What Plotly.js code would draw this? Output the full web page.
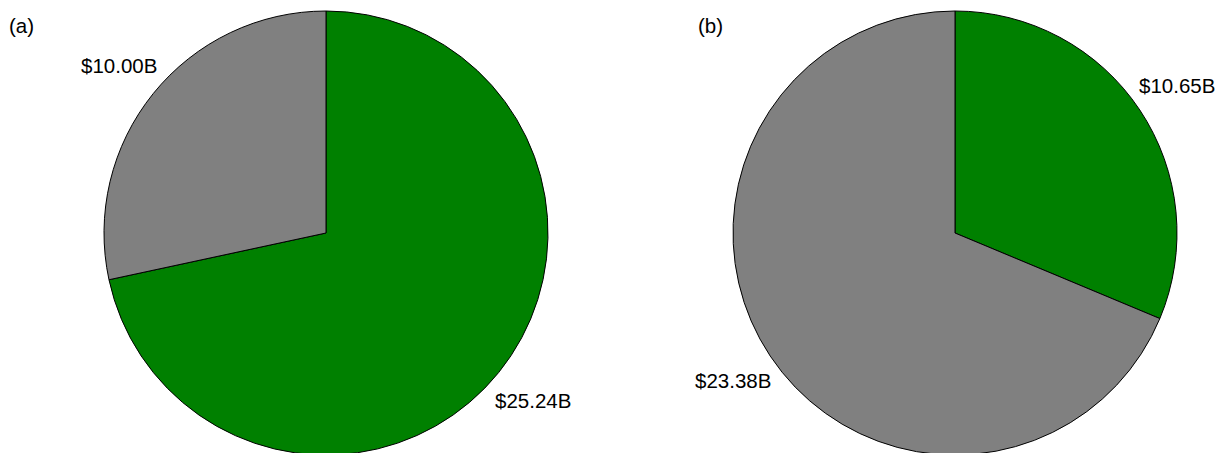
<!DOCTYPE html>
<html>
<head>
<meta charset="utf-8">
<script src="https://cdn.plot.ly/plotly-3.0.1.min.js"></script>
<style>
html,body{margin:0;padding:0;overflow:hidden;background:#fff;}
#chart{width:1223px;height:470px;}
</style>
</head>
<body>
<div id="chart"></div>
<script>
// Data
const categoriesA = ["Green", "Grey"];
const valuesA = [25.24, 10.00];
const categoriesB = ["Green", "Grey"];
const valuesB = [10.65, 23.38];
const panelLabels = ["(a)", "(b)"];
const sliceColors = ["#008000", "#808080"];

const W = 1223, H = 470, mt = 11, mb = 15;
const ph = H - mt - mb;
const FONT = "Liberation Sans, Arial, sans-serif";
const FS = 20.5;

const panels = [
  {labels: categoriesA, values: valuesA, x0: 104, x1: 548},
  {labels: categoriesB, values: valuesB, x0: 733, x1: 1177}
];

function pieTrace(p) {
  return {
    type: "pie",
    labels: p.labels,
    values: p.values,
    sort: false,
    direction: "clockwise",
    rotation: 0,
    marker: {colors: sliceColors, line: {color: "#000000", width: 1}},
    textinfo: "none",
    hoverinfo: "none",
    showlegend: false,
    domain: {x: [p.x0 / W, p.x1 / W], y: [0, 1]}
  };
}

const data = panels.map(pieTrace);

// value labels centred at 1.2 x radius along each slice's mid-angle
const annotations = [];
panels.forEach(function (p) {
  const r = (p.x1 - p.x0) / 2;
  const cx = (p.x0 + p.x1) / 2;
  const cy = mt + ph / 2;
  const total = p.values.reduce(function (a, b) { return a + b; }, 0);
  let cum = 0;
  p.values.forEach(function (v) {
    const th = 2 * Math.PI * (cum + v / 2) / total;
    cum += v;
    const px = cx + 1.2 * r * Math.sin(th);
    const py = cy - 1.2 * r * Math.cos(th);
    annotations.push({
      text: "$" + v.toFixed(2) + "B",
      xref: "paper", yref: "paper",
      x: px / W, y: 1 - (py - mt) / ph,
      xanchor: "center", yanchor: "middle", showarrow: false,
      font: {family: FONT, size: FS, color: "#000000"}
    });
  });
});

panelLabels.forEach(function (t, i) {
  annotations.push({
    text: t, xref: "paper", yref: "paper",
    x: (i === 0 ? 7 : 696) / W, y: 1 - (25 - mt) / ph,
    xanchor: "left", yanchor: "middle", showarrow: false,
    font: {family: FONT, size: FS, color: "#000000"}
  });
});

const layout = {
  width: W,
  height: H,
  margin: {l: 0, r: 0, t: mt, b: mb, pad: 0},
  paper_bgcolor: "#ffffff",
  plot_bgcolor: "#ffffff",
  showlegend: false,
  font: {family: FONT, size: FS, color: "#000000"},
  annotations: annotations
};

Plotly.newPlot("chart", data, layout, {displayModeBar: false, staticPlot: true});
</script>
</body>
</html>
